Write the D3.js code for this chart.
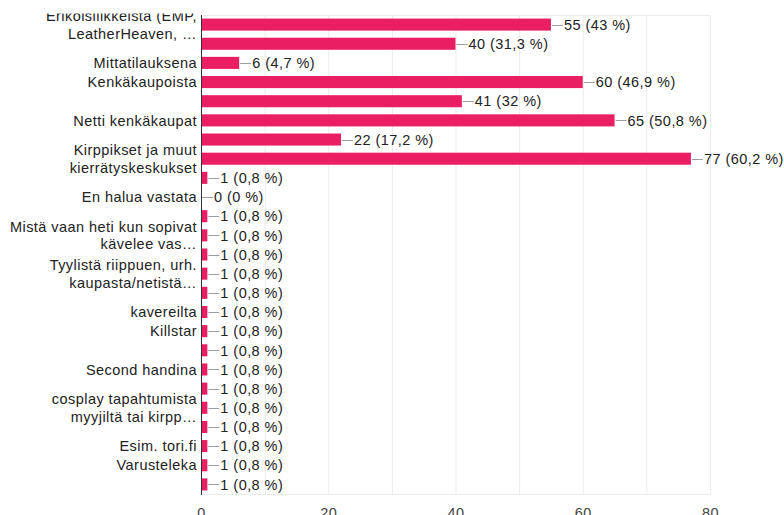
<!DOCTYPE html>
<html><head><meta charset="utf-8">
<script src="https://cdn.jsdelivr.net/npm/d3@7"></script>
<style>body{margin:0;background:#fff;overflow:hidden}svg{display:block}text{font-family:"Liberation Sans",Arial,sans-serif;letter-spacing:0.45px}</style>
</head><body><svg id="c" width="784" height="515"></svg>
<script>
// Category labels (multi-line labels as arrays; empty = label hidden in the original)
const categories = [
  ["Erikoisliikkeistä (EMP,","LeatherHeaven, …"],
  [],
  ["Mittatilauksena"],
  ["Kenkäkaupoista"],
  [],
  ["Netti kenkäkaupat"],
  [],
  ["Kirppikset ja muut","kierrätyskeskukset"],
  [],
  ["En halua vastata"],
  [],
  ["Mistä vaan heti kun sopivat","kävelee vas…"],
  [],
  ["Tyylistä riippuen, urh.","kaupasta/netistä…"],
  [],
  ["kavereilta"],
  ["Killstar"],
  [],
  ["Second handina"],
  [],
  ["cosplay tapahtumista","myyjiltä tai kirpp…"],
  [],
  ["Esim. tori.fi"],
  ["Varusteleka"],
  []
];
const values = [55,40,6,60,41,65,22,77,1,0,1,1,1,1,1,1,1,1,1,1,1,1,1,1,1];
const percents = ["43","31,3","4,7","46,9","32","50,8","17,2","60,2","0,8","0","0,8","0,8","0,8","0,8","0,8","0,8","0,8","0,8","0,8","0,8","0,8","0,8","0,8","0,8","0,8"];
const xTicks = [0,20,40,60,80];
const gridTicks = [10,20,30,40,50,60,70,80];

const svg = d3.select("#c");
const pL = 201, pR = 710, pT = 15, pB = 494;
const x = d3.scaleLinear().domain([0,80]).range([pL,pR]);
const y = d3.scaleBand().domain(d3.range(values.length)).range([pT,pB]).paddingInner(0.37).paddingOuter(0.185);

svg.append("defs").append("clipPath").attr("id","labclip")
  .append("rect").attr("x",0).attr("y",13.5).attr("width",pL).attr("height",500);

// grid
svg.append("g").selectAll("line").data(gridTicks).join("line")
  .attr("x1",d=>x(d)+0.5).attr("x2",d=>x(d)+0.5).attr("y1",pT).attr("y2",pB)
  .attr("stroke","#ebebeb");
svg.append("line").attr("x1",pL).attr("x2",pR+0.5).attr("y1",pT+0.5).attr("y2",pT+0.5).attr("stroke","#ebebeb");
svg.append("line").attr("x1",pL).attr("x2",pR+0.5).attr("y1",pB+0.5).attr("y2",pB+0.5).attr("stroke","#ebebeb");

// bars
svg.append("g").selectAll("rect").data(values).join("rect")
  .attr("x",x(0)).attr("y",(d,i)=>y(i)).attr("width",d=>x(d)-x(0)).attr("height",y.bandwidth())
  .attr("fill","#e91e63");

// leader lines & value labels
const ann = svg.append("g");
values.forEach((v,i)=>{
  const cy = y(i)+y.bandwidth()/2;
  const x0 = x(v);
  ann.append("line").attr("x1",x0+1).attr("x2",x0+12).attr("y1",Math.round(cy)+0.5).attr("y2",Math.round(cy)+0.5)
    .attr("stroke","#9e9e9e").attr("stroke-width",1);
  ann.append("text").attr("x",x0+13).attr("y",cy).attr("dy","0.36em")
    .attr("font-size",14.5).attr("fill","#222").text(`${v} (${percents[i]} %)`);
});

// y axis line
svg.append("line").attr("x1",pL+0.5).attr("x2",pL+0.5).attr("y1",pT).attr("y2",pB+1).attr("stroke","#333");

// category labels
const lab = svg.append("g").attr("clip-path","url(#labclip)");
categories.forEach((lines,i)=>{
  const cy = y(i)+y.bandwidth()/2;
  const n = lines.length, lh = 17.5;
  lines.forEach((t,k)=>{
    lab.append("text").attr("x",pL-4).attr("y",cy+(k-(n-1)/2)*lh).attr("dy","0.36em")
      .attr("text-anchor","end").attr("font-size",14.5).attr("fill","#222").text(t);
  });
});

// x tick labels
const xAxis = d3.axisBottom(x).tickValues(xTicks).tickSize(0).tickPadding(0);
const gx = svg.append("g").attr("transform",`translate(0,${pB+23.5})`).call(xAxis);
gx.select(".domain").remove();
gx.selectAll("text").attr("font-size",14.5).attr("fill","#444").attr("dy","0").attr("font-family","'Liberation Sans',Arial,sans-serif");
</script></body></html>
